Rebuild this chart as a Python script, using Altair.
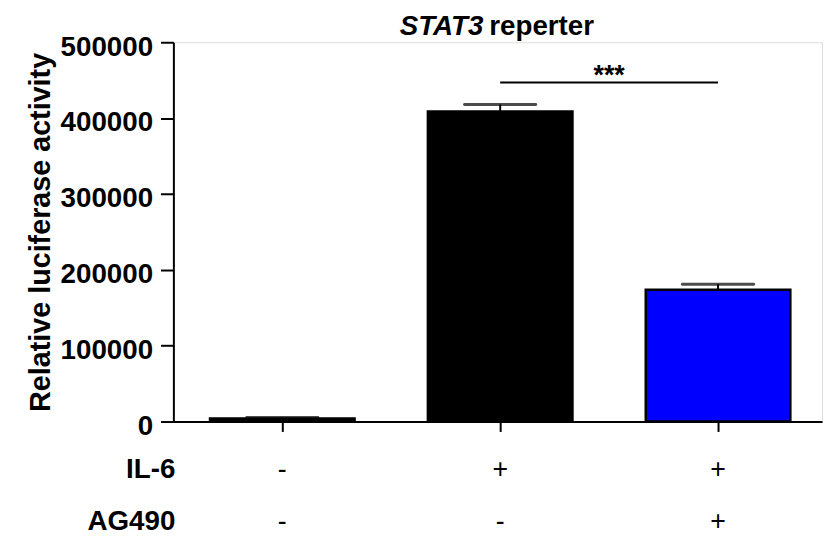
import altair as alt
import pandas as pd

# ---- data ----
groups = ["Control", "IL-6", "IL-6 + AG490"]
positions = [1, 2, 3]
values = [4000, 408600, 173600]
err_top = [5500, 418000, 181000]
bar_colors = ["#000000", "#000000", "#0000FF"]
il6_signs = ["-", "+", "+"]
ag490_signs = ["-", "-", "+"]
row_labels = ["IL-6", "AG490"]
y_ticks = [0, 100000, 200000, 300000, 400000, 500000]
sig_start, sig_end, sig_value, sig_label = 2, 3, 447000, "***"
title_italic, title_rest = "STAT3", "reperter"
y_title = "Relative luciferase activity"

df = pd.DataFrame({
    "group": groups, "pos": positions, "value": values, "err": err_top,
    "color": bar_colors, "il6": il6_signs, "ag490": ag490_signs,
})
sig_df = pd.DataFrame({"start": [sig_start], "end": [sig_end],
                       "mid": [(sig_start + sig_end) / 2],
                       "y": [sig_value], "label": [sig_label]})

W, H = 655, 383
STEP = 220
FONT = "Liberation Sans"

x_scale = alt.Scale(domain=[0.5, 0.5 + W / STEP], nice=False, zero=False, padding=0)
y_scale = alt.Scale(domain=[0, 500000], nice=False, padding=0)

x_axis = alt.Axis(values=positions, labels=False, title=None, tickSize=10,
                  tickWidth=2, domainWidth=2, domainColor="black",
                  tickColor="black", grid=False)
y_axis = alt.Axis(values=y_ticks, format="d", title=y_title, grid=False,
                  tickSize=13, tickWidth=2, domainWidth=2, domainColor="black",
                  tickColor="black", labelFont=FONT, labelFontSize=28,
                  labelFontWeight="bold", labelColor="black", labelPadding=8,
                  labelBaseline="alphabetic", labelOffset=13,
                  titleFont=FONT, titleFontSize=29, titleFontWeight="bold",
                  titleColor="black", titleAngle=270, titleX=-125, titleY=191.5,
                  titleAlign="center", titleBaseline="alphabetic")

base = alt.Chart(df)

bars = base.mark_bar(size=146, stroke="black", strokeWidth=2.5).encode(
    x=alt.X("pos:Q", scale=x_scale, axis=x_axis),
    y=alt.Y("value:Q", scale=y_scale, axis=y_axis),
    color=alt.Color("color:N", scale=None),
)

stems = base.mark_rule(color="black", strokeWidth=2).encode(
    x=alt.X("pos:Q", scale=x_scale),
    y=alt.Y("value:Q", scale=y_scale),
    y2="err:Q",
)

caps = base.mark_tick(orient="horizontal", size=75, thickness=3, color="black",
                      cornerRadius=1.5).encode(
    x=alt.X("pos:Q", scale=x_scale),
    y=alt.Y("err:Q", scale=y_scale),
)

sig_line = alt.Chart(sig_df).mark_rule(color="black", strokeWidth=2).encode(
    x=alt.X("start:Q", scale=x_scale),
    x2="end:Q",
    y=alt.Y("y:Q", scale=y_scale),
)
sig_text = alt.Chart(sig_df).mark_text(font=FONT, fontSize=27, fontWeight="bold",
                                       baseline="alphabetic", dy=2, color="black").encode(
    x=alt.X("mid:Q", scale=x_scale),
    y=alt.Y("y:Q", scale=y_scale),
    text="label:N",
)

title_a = alt.Chart(sig_df).mark_text(font=FONT, fontSize=28, fontWeight="bold",
                                      fontStyle="italic", align="right",
                                      baseline="alphabetic", color="black").encode(
    x=alt.value(313), y=alt.value(-7), text=alt.value(title_italic))
title_b = alt.Chart(sig_df).mark_text(font=FONT, fontSize=28, fontWeight="bold",
                                      align="left", baseline="alphabetic",
                                      color="black").encode(
    x=alt.value(319), y=alt.value(-7), text=alt.value(title_rest))

row1 = alt.Chart(sig_df).mark_text(font=FONT, fontSize=28, fontWeight="bold",
                                   align="right", baseline="alphabetic",
                                   color="black").encode(
    x=alt.value(2), y=alt.value(440), text=alt.value(row_labels[0]))
row2 = alt.Chart(sig_df).mark_text(font=FONT, fontSize=28, fontWeight="bold",
                                   align="right", baseline="alphabetic",
                                   color="black").encode(
    x=alt.value(2), y=alt.value(493), text=alt.value(row_labels[1]))

signs1 = base.mark_text(font=FONT, fontSize=27, align="center",
                        baseline="alphabetic", color="black").encode(
    x=alt.X("pos:Q", scale=x_scale), y=alt.value(440), text="il6:N")
signs2 = base.mark_text(font=FONT, fontSize=27, align="center",
                        baseline="alphabetic", color="black").encode(
    x=alt.X("pos:Q", scale=x_scale), y=alt.value(493), text="ag490:N")

chart = alt.layer(bars, stems, caps, sig_line, sig_text, title_a, title_b,
                  row1, row2, signs1, signs2).properties(
    width=W, height=H,
    autosize=alt.AutoSizeParams(type="none"),
    padding={"left": 167, "top": 32, "right": 2, "bottom": 114},
).configure_view(stroke=None).configure(background="white")

chart.save("out.html", embed_options={"renderer": "svg", "actions": False})
